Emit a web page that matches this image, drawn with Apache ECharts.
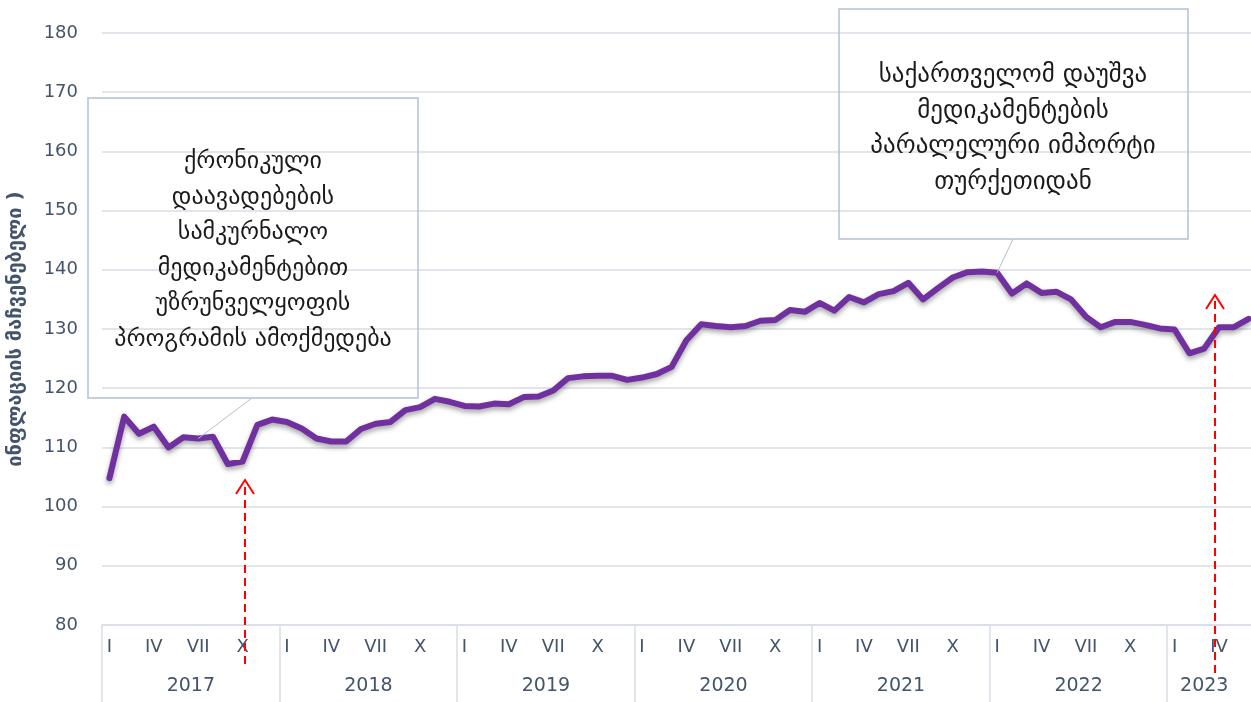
<!DOCTYPE html>
<html>
<head>
<meta charset="utf-8">
<script src="https://cdn.jsdelivr.net/npm/echarts@6/dist/echarts.min.js"></script>
<style>
  html, body { margin: 0; padding: 0; background: #fff; }
  #main { width: 1251px; height: 702px; }
</style>
</head>
<body>
<div id="main"></div>
<script>
// monthly index, Jan 2017 .. Jun 2023
const years = [2017, 2018, 2019, 2020, 2021, 2022, 2023]
const monthNames = ['I', 'II', 'III', 'IV', 'V', 'VI', 'VII', 'VIII', 'IX', 'X', 'XI', 'XII']
const values2017 = [104.8, 115.2, 112.3, 113.5, 110.0, 111.7, 111.5, 111.8, 107.2, 107.6, 113.8, 114.7]
const values2018 = [114.3, 113.2, 111.5, 111.0, 111.0, 113.1, 114.0, 114.3, 116.3, 116.8, 118.2, 117.7]
const values2019 = [117.0, 116.9, 117.4, 117.3, 118.5, 118.6, 119.6, 121.7, 122.0, 122.1, 122.1, 121.4]
const values2020 = [121.8, 122.4, 123.6, 128.1, 130.8, 130.5, 130.3, 130.5, 131.4, 131.5, 133.2, 132.9]
const values2021 = [134.4, 133.1, 135.4, 134.5, 135.9, 136.4, 137.8, 135.0, 136.9, 138.7, 139.6, 139.7]
const values2022 = [139.5, 136.0, 137.7, 136.1, 136.3, 135.0, 132.1, 130.3, 131.2, 131.2, 130.7, 130.1]
const values2023 = [129.9, 125.9, 126.7, 130.3, 130.3, 131.7]

const yearValues = [values2017, values2018, values2019, values2020, values2021, values2022, values2023]
const yTicks = { min: 80, max: 180, step: 10 }

const yAxisTitle = 'ინფლაციის მაჩვენებელი )'
const note1 = 'ქრონიკული\nდაავადებების\nსამკურნალო\nმედიკამენტებით\nუზრუნველყოფის\nპროგრამის ამოქმედება'
const note2 = 'საქართველომ დაუშვა\nმედიკამენტების\nპარალელური იმპორტი\nთურქეთიდან'

const categories = []
const values = []
yearValues.forEach(function (arr, yi) {
  arr.forEach(function (v, mi) {
    categories.push(years[yi] + '-' + monthNames[mi])
    values.push(v)
  })
})
const lastYearLabel = categories.length - 4

const chart = echarts.init(document.getElementById('main'))
const gridColor = '#d9dee6'
const textColor = '#44546a'
const font = 'DejaVu Sans'

const option = {
  backgroundColor: '#fff',
  animation: false,
  grid: { left: 102, top: 33, width: 1154, height: 592, outerBoundsMode: 'none', containLabel: false },
  xAxis: [
    {
      type: 'category',
      data: categories,
      position: 'bottom',
      axisLine: { lineStyle: { color: gridColor, width: 1.5 } },
      axisTick: { show: false },
      axisLabel: {
        interval: function (i) { return i % 3 === 0 },
        formatter: function (v) { return v.split('-')[1] },
        color: textColor,
        fontFamily: font,
        fontSize: 18,
        margin: 13
      }
    },
    {
      type: 'category',
      data: categories,
      position: 'bottom',
      axisLine: { show: false },
      axisTick: {
        show: true,
        interval: function (i) { return i % 12 === 0 },
        length: 77,
        lineStyle: { color: gridColor, width: 1.5 }
      },
      axisLabel: {
        interval: function (i) { return (i % 12 === 5 && i < 72) || i === lastYearLabel },
        formatter: function (v, i) {
          const y = v.split('-')[0]
          return i === lastYearLabel ? '{b|' + y + '}' : '{a|' + y + '}'
        },
        margin: 52,
        rich: {
          a: { color: textColor, fontFamily: font, fontSize: 19, padding: [0, 0, 0, 15] },
          b: { color: textColor, fontFamily: font, fontSize: 19 }
        }
      }
    }
  ],
  yAxis: {
    type: 'value',
    min: yTicks.min,
    max: yTicks.max,
    interval: yTicks.step,
    name: yAxisTitle,
    nameLocation: 'middle',
    nameGap: 76,
    nameTextStyle: { color: textColor, fontFamily: font, fontSize: 20, fontWeight: 'bold' },
    axisLine: { show: false },
    axisTick: { show: false },
    axisLabel: { color: textColor, fontFamily: font, fontSize: 18, margin: 24 },
    splitLine: { lineStyle: { color: gridColor, width: 1.5 } }
  },
  series: [
    {
      type: 'line',
      data: values,
      symbol: 'none',
      lineStyle: {
        color: '#7030a0',
        width: 6,
        cap: 'round',
        join: 'round',
        shadowColor: 'rgba(0,0,0,0.35)',
        shadowBlur: 5,
        shadowOffsetY: 3
      },
      z: 5
    }
  ]
}
chart.setOption(option)

// annotations
const p1 = chart.convertToPixel({ seriesIndex: 0 }, [6, values[6]])
const p2 = chart.convertToPixel({ seriesIndex: 0 }, [60, values[60]])
const boxStyle = { stroke: '#b4c0d2', lineWidth: 1.5, fill: 'rgba(0,0,0,0)' }
const noteText = { fill: '#1a1a1a', align: 'center', verticalAlign: 'middle', lineHeight: 35.5 }
const redLine = { stroke: '#ff0000', lineWidth: 2, fill: null }

function arrow (x, yTop, yBottom) {
  return [
    { type: 'line', shape: { x1: x, y1: yBottom, x2: x, y2: yTop }, style: Object.assign({ lineDash: [8, 5] }, redLine), z: 20 },
    { type: 'polyline', shape: { points: [[x - 9, yTop + 14], [x, yTop], [x + 9, yTop + 14]] }, style: redLine, z: 20 }
  ]
}

chart.setOption({
  graphic: [
    { type: 'line', shape: { x1: 252, y1: 398, x2: p1[0], y2: p1[1] }, style: { stroke: '#b4c0d2', lineWidth: 1 }, z: 10 },
    { type: 'rect', shape: { x: 88, y: 98, width: 330, height: 300 }, style: boxStyle, z: 10 },
    { type: 'text', x: 253, y: 251, style: Object.assign({ text: note1, font: '24px "DejaVu Sans"' }, noteText), z: 10 },
    { type: 'line', shape: { x1: 1013, y1: 239, x2: p2[0], y2: p2[1] }, style: { stroke: '#b4c0d2', lineWidth: 1 }, z: 10 },
    { type: 'rect', shape: { x: 839, y: 9, width: 349, height: 230 }, style: boxStyle, z: 10 },
    { type: 'text', x: 1013, y: 129, style: Object.assign({ text: note2, font: '25px "DejaVu Sans"' }, noteText), z: 10 }
  ].concat(arrow(245, 480, 664), arrow(1215, 295, 673))
})
</script>
</body>
</html>
